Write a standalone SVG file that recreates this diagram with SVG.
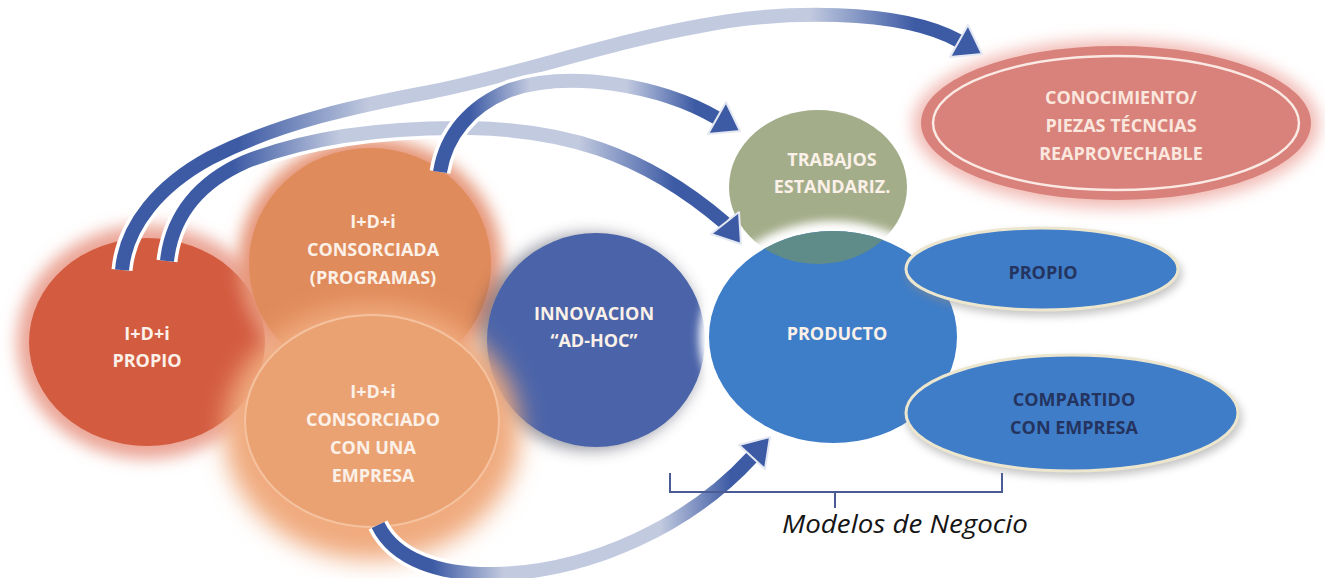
<svg xmlns="http://www.w3.org/2000/svg" width="1325" height="578" viewBox="0 0 1325 578">
<defs>
<style>
.lbl{font-family:"Open Sans","Noto Sans","Liberation Sans",sans-serif;font-weight:700;font-size:18px;text-anchor:middle;fill:#fbf1e8}
.dark{fill:#24345f}
.shaftw{fill:none;stroke:#ffffff;stroke-width:21;stroke-linecap:butt}
.shaft{fill:none;stroke-width:14;stroke-linecap:butt}
.head{fill:#3d5ba5;stroke:#e4e8f2;stroke-width:2;stroke-linejoin:round}
</style>
<filter id="blur8" x="-30%" y="-30%" width="160%" height="160%"><feGaussianBlur stdDeviation="8"/></filter>
<filter id="blur4" x="-30%" y="-30%" width="160%" height="160%"><feGaussianBlur stdDeviation="4"/></filter>
<filter id="blur12" x="-40%" y="-40%" width="180%" height="180%"><feGaussianBlur stdDeviation="12"/></filter>
<clipPath id="prodClip"><ellipse cx="833" cy="337" rx="124" ry="106"/></clipPath>
<linearGradient id="g1" gradientUnits="userSpaceOnUse" x1="107" y1="0" x2="985" y2="0">
<stop offset="0" stop-color="#3d5ba5"/><stop offset="0.15" stop-color="#3d5ba5"/><stop offset="0.3" stop-color="#c2cadf"/><stop offset="0.8" stop-color="#c2cadf"/><stop offset="0.92" stop-color="#3d5ba5"/><stop offset="1" stop-color="#3d5ba5"/>
</linearGradient>
<linearGradient id="g2" gradientUnits="userSpaceOnUse" x1="150" y1="0" x2="745" y2="0">
<stop offset="0" stop-color="#3d5ba5"/><stop offset="0.14" stop-color="#3d5ba5"/><stop offset="0.32" stop-color="#c2cadf"/><stop offset="0.72" stop-color="#c2cadf"/><stop offset="0.88" stop-color="#3d5ba5"/><stop offset="1" stop-color="#3d5ba5"/>
</linearGradient>
<linearGradient id="g3" gradientUnits="userSpaceOnUse" x1="440" y1="0" x2="740" y2="0">
<stop offset="0" stop-color="#3d5ba5"/><stop offset="0.1" stop-color="#3d5ba5"/><stop offset="0.3" stop-color="#c2cadf"/><stop offset="0.62" stop-color="#c2cadf"/><stop offset="0.85" stop-color="#3d5ba5"/><stop offset="1" stop-color="#3d5ba5"/>
</linearGradient>
<linearGradient id="g4" gradientUnits="userSpaceOnUse" x1="378" y1="0" x2="770" y2="0">
<stop offset="0" stop-color="#3d5ba5"/><stop offset="0.14" stop-color="#3d5ba5"/><stop offset="0.32" stop-color="#c2cadf"/><stop offset="0.72" stop-color="#c2cadf"/><stop offset="0.9" stop-color="#3d5ba5"/><stop offset="1" stop-color="#3d5ba5"/>
</linearGradient>
</defs>
<rect width="1325" height="578" fill="#ffffff"/>

<g id="node-idi-propio">
<ellipse cx="147" cy="342" rx="130" ry="117" fill="#eba596" filter="url(#blur8)"/>
<ellipse cx="147" cy="342" rx="118" ry="104" fill="#d35b40"/>
<text class="lbl" x="147" y="340">I+D+i</text>
<text class="lbl" x="147" y="367">PROPIO</text>
</g>

<g id="node-idi-consorciada">
<ellipse cx="370" cy="264" rx="132" ry="126" fill="#e69578" filter="url(#blur8)"/>
<ellipse cx="370" cy="264" rx="121" ry="116" fill="#e08b5b"/>
<text class="lbl" x="373" y="228">I+D+i</text>
<text class="lbl" x="373" y="256">CONSORCIADA</text>
<text class="lbl" x="373" y="284">(PROGRAMAS)</text>
</g>

<g id="node-innovacion">
<ellipse cx="590" cy="342" rx="112" ry="108" fill="#3c3f55" opacity="0.55" filter="url(#blur8)"/>
<ellipse cx="596" cy="340" rx="109" ry="107" fill="#4b64a9"/>
<text class="lbl" x="594" y="320">INNOVACION</text>
<text class="lbl" x="594" y="347">“AD-HOC”</text>
</g>

<g id="node-idi-consorciado-empresa">
<ellipse cx="372" cy="432" rx="148" ry="128" fill="#f0aa7e" filter="url(#blur12)"/>
<ellipse cx="372" cy="421" rx="127" ry="106" fill="#eba273" stroke="#f5c29f" stroke-width="2"/>
<text class="lbl" x="373" y="398">I+D+i</text>
<text class="lbl" x="373" y="426">CONSORCIADO</text>
<text class="lbl" x="373" y="454">CON UNA</text>
<text class="lbl" x="373" y="482">EMPRESA</text>
</g>

<g id="node-trabajos">
<ellipse cx="818" cy="187" rx="89" ry="77" fill="#a4ad8a"/>
</g>

<g id="node-producto">
<ellipse cx="833" cy="337" rx="134" ry="116" fill="#ffffff" filter="url(#blur4)"/>
<ellipse cx="833" cy="337" rx="124" ry="106" fill="#3e7dc8"/>
<ellipse cx="818" cy="187" rx="89" ry="77" fill="#5f8c88" clip-path="url(#prodClip)"/>
<text class="lbl" x="837" y="340">PRODUCTO</text>
</g>

<g id="node-trabajos-label">
<text class="lbl" x="832" y="166">TRABAJOS</text>
<text class="lbl" x="832" y="193">ESTANDARIZ.</text>
</g>

<g id="node-conocimiento">
<ellipse cx="1116" cy="124" rx="203" ry="84" fill="#f1b9b3" filter="url(#blur8)"/>
<ellipse cx="1116" cy="123" rx="195" ry="77" fill="#d9817b"/>
<ellipse cx="1116" cy="123" rx="183" ry="67" fill="none" stroke="#fbe9e3" stroke-width="2.5"/>
<text class="lbl" x="1121" y="104" style="fill:#fae7de">CONOCIMIENTO/</text>
<text class="lbl" x="1121" y="132" style="fill:#fae7de">PIEZAS TÉCNCIAS</text>
<text class="lbl" x="1121" y="160" style="fill:#fae7de">REAPROVECHABLE</text>
</g>

<g id="node-propio">
<ellipse cx="1044" cy="274" rx="138" ry="42" fill="#8a8a8a" opacity="0.5" filter="url(#blur4)"/>
<ellipse cx="1042" cy="269" rx="136" ry="41" fill="#3f7dc8" stroke="#ece6cf" stroke-width="3"/>
<text class="lbl dark" x="1043" y="279">PROPIO</text>
</g>

<g id="node-compartido">
<ellipse cx="1074" cy="418" rx="168" ry="59" fill="#8a8a8a" opacity="0.5" filter="url(#blur4)"/>
<ellipse cx="1072" cy="413" rx="166" ry="58" fill="#3f7dc8" stroke="#ece6cf" stroke-width="3"/>
<text class="lbl dark" x="1074" y="406">COMPARTIDO</text>
<text class="lbl dark" x="1074" y="434">CON EMPRESA</text>
</g>

<g id="connectors">
<path class="shaftw" d="M122,270 C126,225 160,185 210,158 C280,122 360,105 430,92 C520,74 610,42 700,26 C780,10 900,8 959,41"/>
<path class="shaft" stroke="url(#g1)" d="M122,270 C126,225 160,185 210,158 C280,122 360,105 430,92 C520,74 610,42 700,26 C780,10 900,8 959,41"/>
<polygon class="head" points="982,54 950,57 968,25"/>

<path class="shaftw" d="M167,261 C172,215 200,182 245,162 C310,136 390,127 470,128 C560,130 640,150 725,223"/>
<path class="shaft" stroke="url(#g2)" d="M167,261 C172,215 200,182 245,162 C310,136 390,127 470,128 C560,130 640,150 725,223"/>
<polygon class="head" points="741,244 711,234 739,212"/>

<path class="shaftw" d="M440,172 C446,135 470,106 510,90 C570,70 660,85 717,118"/>
<path class="shaft" stroke="url(#g3)" d="M440,172 C446,135 470,106 510,90 C570,70 660,85 717,118"/>
<polygon class="head" points="740,131 708,134 726,102"/>

<path class="shaftw" d="M378,525 C395,560 440,575 495,574 C590,572 690,525 752,457"/>
<path class="shaft" stroke="url(#g4)" d="M378,525 C395,560 440,575 495,574 C590,572 690,525 752,457"/>
<polygon class="head" points="770,437 739,445 765,469"/>
</g>

<g id="bracket">
<path d="M670,473 L670,492 L1002,492 L1002,473 M835,492 L835,508" fill="none" stroke="#4b5b94" stroke-width="2"/>
<text x="905" y="533" font-family="'Open Sans','Noto Sans','Liberation Sans',sans-serif" font-style="italic" font-weight="500" font-size="26" text-anchor="middle" fill="#151515" textLength="246" lengthAdjust="spacingAndGlyphs">Modelos de Negocio</text>
</g>
</svg>
